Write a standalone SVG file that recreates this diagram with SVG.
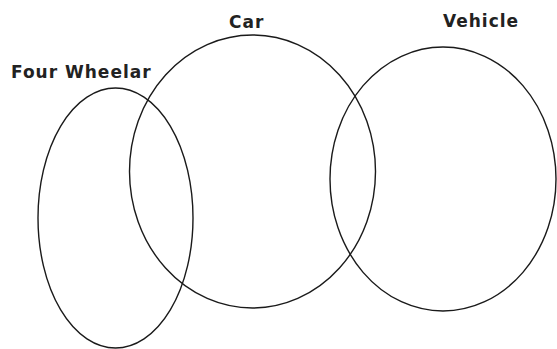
<svg xmlns="http://www.w3.org/2000/svg" width="557" height="349" viewBox="0 0 557 349">
<style>
.set{fill:none;stroke:#1a1a1a;stroke-width:1.4}
.lbl{font-family:"DejaVu Sans","Verdana",sans-serif;font-weight:bold;font-size:17px;letter-spacing:1px;fill:#222}
</style>
<rect width="557" height="349" fill="#fff"/>
<g id="four-wheelar">
<ellipse class="set" cx="115.5" cy="218" rx="77.5" ry="130"/>
<text class="lbl" x="11" y="78">Four Wheelar</text>
</g>
<g id="car">
<ellipse class="set" cx="252.5" cy="171.5" rx="123" ry="136.5"/>
<text class="lbl" x="229" y="28">Car</text>
</g>
<g id="vehicle">
<ellipse class="set" cx="443" cy="179" rx="113" ry="132"/>
<text class="lbl" x="443" y="27">Vehicle</text>
</g>
<g id="connectors"></g>
</svg>
